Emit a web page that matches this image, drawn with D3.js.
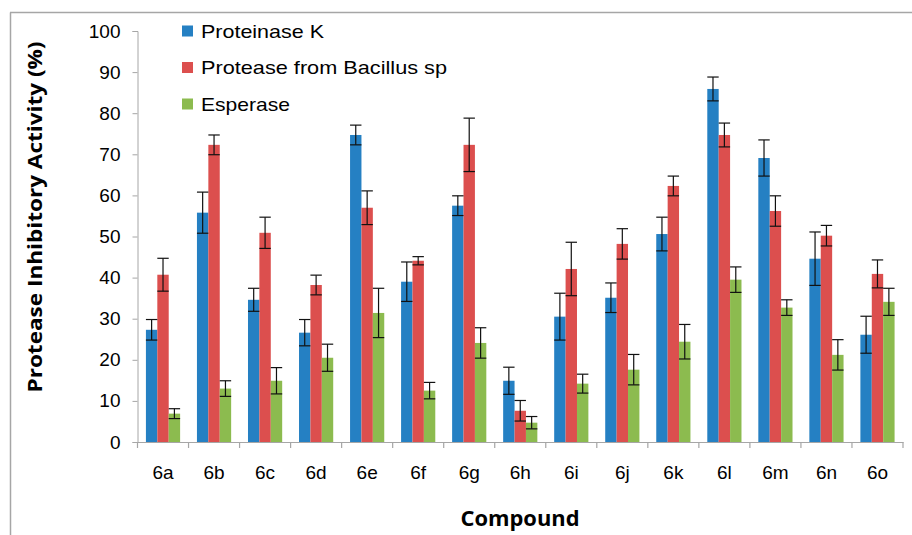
<!DOCTYPE html>
<html>
<head>
<meta charset="utf-8">
<script src="https://cdn.jsdelivr.net/npm/d3@7"></script>
<style>
  body { margin: 0; background: #fff; }
  svg { display: block; }
  .tick text { font-family: "Liberation Sans", Arial, sans-serif; font-size: 19px; fill: #000; }
</style>
</head>
<body>
<div id="chart"></div>
<script>
// data
var compounds = ["6a", "6b", "6c", "6d", "6e", "6f", "6g", "6h", "6i", "6j", "6k", "6l", "6m", "6n", "6o"];
var seriesNames = ["Proteinase K", "Protease from Bacillus sp", "Esperase"];
var proteinaseK = [27.3, 55.8, 34.6, 26.6, 74.7, 39.0, 57.5, 14.9, 30.5, 35.1, 50.6, 85.9, 69.1, 44.6, 26.1];
var proteinaseKErr = [2.5, 5.0, 2.8, 3.2, 2.4, 4.8, 2.4, 3.3, 5.7, 3.6, 4.1, 2.9, 4.4, 6.5, 4.5];
var bacillus = [40.7, 72.3, 50.9, 38.2, 57.0, 44.1, 72.3, 7.6, 42.1, 48.2, 62.3, 74.7, 56.2, 50.2, 40.9];
var bacillusErr = [4.0, 2.4, 3.8, 2.4, 4.1, 1.0, 6.5, 2.5, 6.5, 3.7, 2.4, 2.9, 3.7, 2.5, 3.4];
var esperase = [6.9, 13.0, 14.9, 20.5, 31.4, 12.5, 24.1, 4.7, 14.2, 17.6, 24.4, 39.5, 32.7, 21.2, 34.1];
var esperaseErr = [1.2, 1.9, 3.2, 3.3, 6.0, 2.0, 3.7, 1.5, 2.3, 3.7, 4.2, 3.1, 1.9, 3.7, 3.3];
var yTicks = [0, 10, 20, 30, 40, 50, 60, 70, 80, 90, 100];

var colors = ["#2580c3", "#dc4f4e", "#8cbb4f"];
var values = [proteinaseK, bacillus, esperase];
var errors = [proteinaseKErr, bacillusErr, esperaseErr];

var width = 912, height = 535;
var plotLeft = 137.5, plotRight = 903, plotTop = 31, plotBottom = 442;

var svg = d3.select("#chart").append("svg")
  .attr("width", width)
  .attr("height", height);

// chart frame (top and left edges visible)
svg.append("line").attr("x1", 10).attr("x2", width).attr("y1", 12.5).attr("y2", 12.5)
  .attr("stroke", "#a6a6a6").attr("stroke-width", 1.5);
svg.append("line").attr("x1", 10.5).attr("x2", 10.5).attr("y1", 12.5).attr("y2", height)
  .attr("stroke", "#a6a6a6").attr("stroke-width", 1.5);

var x0 = d3.scaleBand().domain(compounds).range([plotLeft, plotRight])
  .paddingInner(0.33).paddingOuter(0.165);
var x1 = d3.scaleBand().domain(d3.range(3)).range([0, x0.bandwidth()]);
var y = d3.scaleLinear().domain([0, 100]).range([plotBottom, plotTop]);

// y axis
var yAxis = svg.append("g")
  .attr("transform", "translate(" + plotLeft + ",0)")
  .call(d3.axisLeft(y).tickValues(yTicks).tickSize(5).tickPadding(12));
yAxis.select(".domain").attr("stroke", "#a6a6a6");
yAxis.selectAll(".tick line").attr("stroke", "#a6a6a6");

// bars
var groups = svg.selectAll(".grp")
  .data(compounds)
  .enter().append("g")
  .attr("class", "grp")
  .attr("transform", function (d) { return "translate(" + x0(d) + ",0)"; });

for (var s = 0; s < 3; s++) {
  (function (s) {
    groups.append("rect")
      .attr("x", x1(s))
      .attr("y", function (d, i) { return y(values[s][i]); })
      .attr("width", x1.bandwidth())
      .attr("height", function (d, i) { return plotBottom - y(values[s][i]); })
      .attr("fill", colors[s]);
  })(s);
}

// error bars
for (var s = 0; s < 3; s++) {
  (function (s) {
    var cx = x1(s) + x1.bandwidth() / 2;
    var hw = x1.bandwidth() / 2;
    var eb = groups.append("g").attr("stroke", "#111").attr("stroke-width", 1.2);
    eb.append("line")
      .attr("x1", cx).attr("x2", cx)
      .attr("y1", function (d, i) { return y(values[s][i] + errors[s][i]); })
      .attr("y2", function (d, i) { return y(values[s][i] - errors[s][i]); });
    eb.append("line")
      .attr("x1", cx - hw).attr("x2", cx + hw)
      .attr("y1", function (d, i) { return y(values[s][i] + errors[s][i]); })
      .attr("y2", function (d, i) { return y(values[s][i] + errors[s][i]); });
    eb.append("line")
      .attr("x1", cx - hw).attr("x2", cx + hw)
      .attr("y1", function (d, i) { return y(values[s][i] - errors[s][i]); })
      .attr("y2", function (d, i) { return y(values[s][i] - errors[s][i]); });
  })(s);
}

// x axis
var xAxis = svg.append("g")
  .attr("transform", "translate(0," + plotBottom + ")")
  .call(d3.axisBottom(x0).tickSize(0).tickPadding(24));
xAxis.select(".domain").attr("stroke", "#a6a6a6").attr("stroke-width", 1.2);
var step = x0.step();
xAxis.selectAll(".sep")
  .data(d3.range(compounds.length + 1))
  .enter().append("line")
  .attr("x1", function (i) { return plotLeft + i * step; })
  .attr("x2", function (i) { return plotLeft + i * step; })
  .attr("y1", 0).attr("y2", 6)
  .attr("stroke", "#a6a6a6").attr("stroke-width", 1.2);

// axis titles
svg.append("text")
  .attr("transform", "translate(42,217) rotate(-90)")
  .attr("text-anchor", "middle")
  .attr("textLength", 351)
  .attr("lengthAdjust", "spacingAndGlyphs")
  .style("font-family", "'Open Sans', sans-serif")
  .style("font-weight", "bold")
  .style("font-size", "20px")
  .text("Protease Inhibitory Activity (%)");

svg.append("text")
  .attr("x", 520)
  .attr("y", 526)
  .attr("text-anchor", "middle")
  .attr("textLength", 119)
  .attr("lengthAdjust", "spacingAndGlyphs")
  .style("font-family", "'Open Sans', sans-serif")
  .style("font-weight", "bold")
  .style("font-size", "22px")
  .text("Compound");

// legend
var legendLen = [123, 246, 89];
var legend = svg.selectAll(".leg")
  .data(seriesNames)
  .enter().append("g")
  .attr("class", "leg")
  .attr("transform", function (d, i) { return "translate(182," + (31 + i * 36.5) + ")"; });
legend.append("rect")
  .attr("x", 0).attr("y", -5.5)
  .attr("width", 11).attr("height", 11)
  .attr("fill", function (d, i) { return colors[i]; });
legend.append("text")
  .attr("x", 19).attr("y", 0).attr("dy", "0.35em")
  .attr("textLength", function (d, i) { return legendLen[i]; })
  .attr("lengthAdjust", "spacingAndGlyphs")
  .style("font-family", "'Liberation Sans', Arial, sans-serif")
  .style("font-size", "19px")
  .text(function (d) { return d; });
</script>
</body>
</html>
